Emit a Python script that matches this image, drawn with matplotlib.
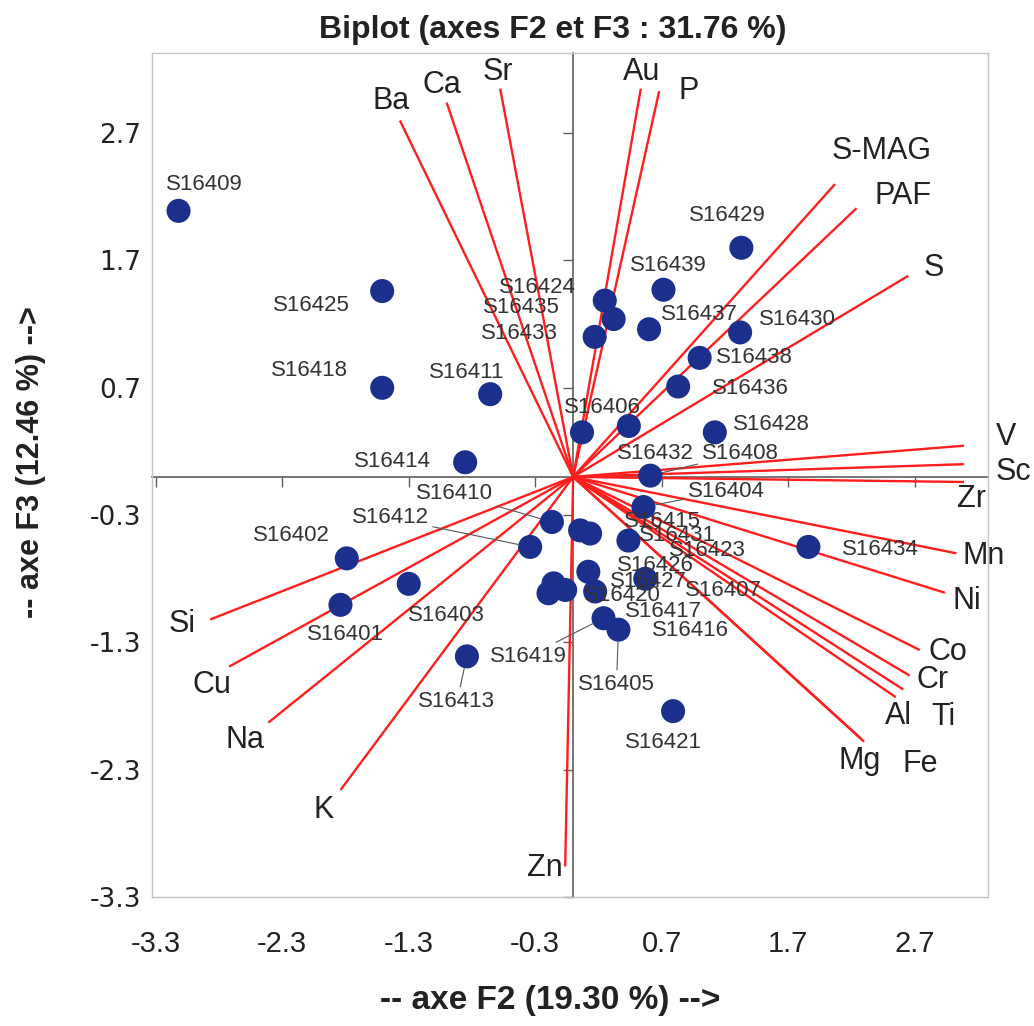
import matplotlib.pyplot as plt

plt.rcParams['font.family'] = ['Liberation Sans', 'DejaVu Sans']

# Observations: factor scores on F2 / F3
samples = ['S16401', 'S16402', 'S16403', 'S16404', 'S16405', 'S16406', 'S16407',
           'S16408', 'S16409', 'S16410', 'S16411', 'S16412', 'S16413', 'S16414',
           'S16415', 'S16416', 'S16417', 'S16418', 'S16419', 'S16420', 'S16421',
           'S16423', 'S16424', 'S16425', 'S16426', 'S16427', 'S16428', 'S16429',
           'S16430', 'S16431', 'S16432', 'S16433', 'S16434', 'S16435', 'S16436',
           'S16437', 'S16438', 'S16439']
f2 = [-1.84, -1.79, -1.30, 0.556, 0.358, 0.07, 0.055,
      0.61, -3.12, -0.168, -0.656, -0.34, -0.84, -0.854,
      0.437, -0.195, -0.155, -1.51, 0.24, -0.063, 0.79,
      0.57, 0.25, -1.51, 0.12, 0.174, 1.12, 1.33,
      1.32, 0.134, 0.44, 0.17, 1.86, 0.32, 0.83,
      0.60, 1.00, 0.714]
f3 = [-1.005, -0.64, -0.84, -0.237, -1.20, 0.35, -0.42,
      0.01, 2.09, -0.354, 0.65, -0.55, -1.41, 0.115,
      -0.50, -0.914, -0.836, 0.70, -1.11, -0.888, -1.84,
      -0.80, 1.385, 1.46, -0.745, -0.90, 0.35, 1.80,
      1.135, -0.445, 0.40, 1.10, -0.55, 1.24, 0.71,
      1.16, 0.935, 1.47]

# Variables: loadings drawn as rays from the origin
variables = ['Ba', 'Ca', 'Sr', 'Au', 'P', 'S-MAG', 'PAF', 'S', 'V', 'Sc', 'Zr', 'Mn',
             'Ni', 'Co', 'Cr', 'Al', 'Ti', 'Mg', 'Fe', 'Si', 'Cu', 'Na', 'K', 'Zn']
var_f2 = [-1.37, -1.00, -0.577, 0.535, 0.68, 2.07, 2.24, 2.65, 3.09, 3.09, 3.09, 3.03,
          2.94, 2.74, 2.66, 2.55, 2.61, 2.28, 2.30, -2.87, -2.72, -2.41, -1.84, -0.063]
var_f3 = [2.80, 2.94, 3.05, 3.05, 3.03, 2.30, 2.11, 1.58, 0.245, 0.10, -0.04, -0.60,
          -0.91, -1.36, -1.56, -1.73, -1.67, -2.06, -2.08, -1.12, -1.49, -1.93, -2.46, -3.06]

ticks = [-3.3, -2.3, -1.3, -0.3, 0.7, 1.7, 2.7]

# label placement (offset in pixels from the point / ray tip)
var_offsets = {'Ba': (-9, 19), 'Ca': (-5, 18), 'Sr': (-2, 17), 'Au': (1, 17), 'P': (29, 0),
               'S-MAG': (47, 33), 'PAF': (47, 12), 'S': (25, 8), 'V': (42, 9), 'Sc': (49, -8),
               'Zr': (8, -17), 'Mn': (27, -3), 'Ni': (22, -8), 'Co': (28, -2), 'Cr': (23, -5),
               'Al': (3, -19), 'Ti': (40, -27), 'Mg': (-2, -22), 'Fe': (56, -22),
               'Si': (-28, -5), 'Cu': (-17, -18), 'Na': (-23, -17), 'K': (-17, -20), 'Zn': (-20, -2)}
obs_offsets = {'S16409': (26, 26), 'S16425': (-71, -14), 'S16418': (-73, 17), 'S16411': (-23, 22),
               'S16414': (-73, 1), 'S16424': (-67, 13), 'S16435': (-92, 12), 'S16433': (-75, 3),
               'S16429': (-14, 32), 'S16439': (5, 24), 'S16437': (50, 15), 'S16430': (57, 13),
               'S16438': (55, 0), 'S16436': (72, -2), 'S16428': (57, 8), 'S16406': (20, 25),
               'S16432': (27, -28), 'S16408': (90, 22), 'S16404': (83, 16), 'S16434': (72, -3),
               'S16421': (-10, -31), 'S16410': (-97, 28), 'S16412': (-140, 29), 'S16402': (-55, 23),
               'S16403': (38, -32), 'S16401': (5, -30), 'S16413': (-10, -45), 'S16419': (-75, -38),
               'S16405': (-2, -55), 'S16415': (34, 19), 'S16431': (87, -2), 'S16423': (62, 28),
               'S16427': (53, 10), 'S16426': (67, 6), 'S16420': (57, -6), 'S16417': (110, -28),
               'S16416': (142, -37), 'S16407': (143, -60)}
leaders = {'S16408', 'S16404', 'S16410', 'S16412', 'S16413', 'S16419', 'S16405'}

W, H = 1034, 1026
fig = plt.figure(figsize=(W / 100, H / 100), dpi=100)
fig.patch.set_facecolor('white')
rect = [152 / W, 1 - 897 / H, (988 - 152) / W, (897 - 53) / H]
xlim = (-3.33, 3.28)
ylim = (-3.29, 3.33)

# axes crossing at zero, drawn underneath
ax0 = fig.add_axes(rect)
ax0.set_xlim(xlim)
ax0.set_ylim(ylim)
ax0.set_xticks(ticks)
ax0.set_yticks(ticks)
for side in ['top', 'right']:
    ax0.spines[side].set_visible(False)
for side in ['left', 'bottom']:
    ax0.spines[side].set_position(('data', 0))
    ax0.spines[side].set_color('#5e5e5e')
    ax0.spines[side].set_linewidth(1.2)
ax0.tick_params(direction='out', length=7, width=1, color='#5e5e5e',
                labelleft=False, labelbottom=False)

# main axes: frame, tick labels and all marks
ax = fig.add_axes(rect)
ax.patch.set_visible(False)
ax.set_xlim(xlim)
ax.set_ylim(ylim)
for s in ax.spines.values():
    s.set_color('#c4c4c4')
    s.set_linewidth(1.0)
ax.set_xticks(ticks)
ax.set_yticks(ticks)
ax.set_xticklabels(['%.1f' % t for t in ticks], fontsize=21, color='#222222')
ax.set_yticklabels(['%.1f' % t for t in ticks], fontsize=19, color='#222222',
                   family=['DejaVu Sans'])
ax.tick_params(axis='x', length=0, pad=24)
ax.tick_params(axis='y', length=0, pad=8)

for name, vx, vy in zip(variables, var_f2, var_f3):
    ax.plot([0, vx], [0, vy], color='#ff1e1e', lw=1.7, zorder=2, solid_capstyle='butt')
    ax.annotate(name, (vx, vy), xytext=var_offsets[name], textcoords='offset pixels',
                ha='center', va='center', fontsize=22, color='#222222',
                annotation_clip=False, zorder=5)

ax.scatter(f2, f3, s=300, color='#1b2f8c', edgecolors='none', zorder=3)

for name, x, y in zip(samples, f2, f3):
    arrow = None
    if name in leaders:
        arrow = dict(arrowstyle='-', color='#555555', lw=0.8, shrinkA=1, shrinkB=9)
    ax.annotate(name, (x, y), xytext=obs_offsets[name], textcoords='offset pixels',
                ha='center', va='center', fontsize=16, color='#333333',
                arrowprops=arrow, zorder=5)

fig.text(553 / W, 1 - 30 / H, 'Biplot (axes F2 et F3 : 31.76 %)', ha='center', va='center',
         fontsize=23, fontweight='bold', color='#222222')
fig.text(550 / W, 1 - 1000 / H, '-- axe F2 (19.30 %) -->', ha='center', va='center',
         fontsize=24, fontweight='bold', color='#222222')
fig.text(31 / W, 1 - 462 / H, '-- axe F3 (12.46 %) -->', ha='center', va='center',
         rotation=90, fontsize=22, fontweight='bold', color='#222222')

fig.savefig('out.png', dpi=100)
